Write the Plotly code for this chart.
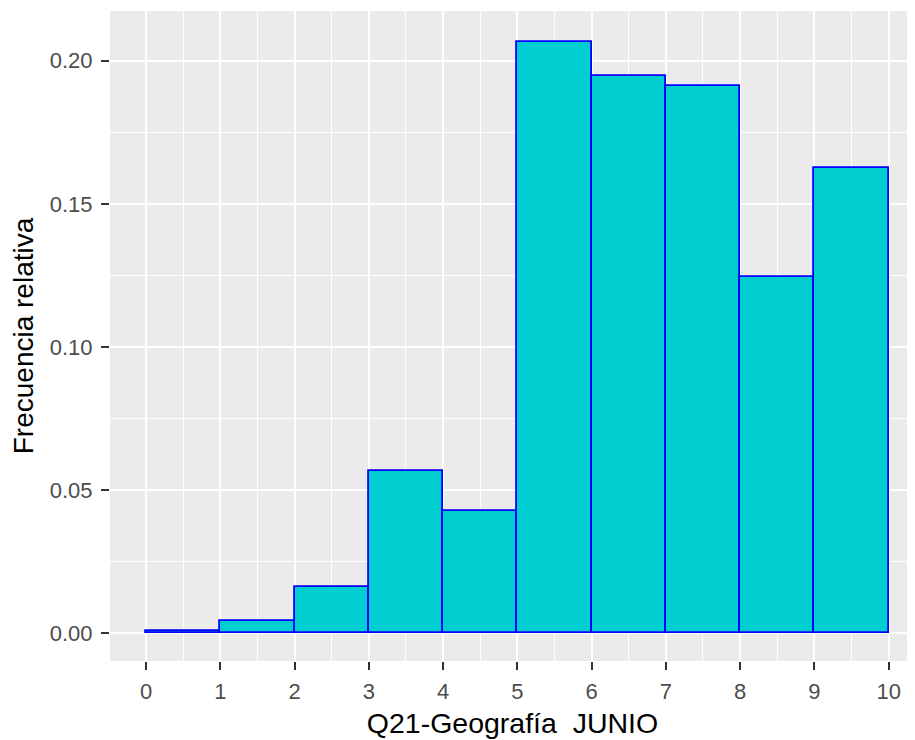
import plotly.graph_objects as go

bin_left = [0, 1, 2, 3, 4, 5, 6, 7, 8, 9]
rel_freq = [0.0006, 0.0041, 0.0160, 0.0565, 0.0428, 0.2064, 0.1947, 0.1913, 0.1245, 0.1624]
x_ticks = [0, 1, 2, 3, 4, 5, 6, 7, 8, 9, 10]
y_ticks = [0.00, 0.05, 0.10, 0.15, 0.20]
y_tick_text = ["0.00", "0.05", "0.10", "0.15", "0.20"]

fig = go.Figure(go.Bar(
    x=[b + 0.5 for b in bin_left],
    y=rel_freq,
    width=1,
    marker=dict(color="#00CED1", line=dict(color="#0000FF", width=1.8)),
    hoverinfo="x+y",
))

font_family = "Liberation Sans, Arial, sans-serif"
# page body has an 8px default margin, so the figure is sized/offset to compensate
fig.update_layout(
    width=907, height=732,
    margin=dict(l=102, r=0, t=3, b=79),
    paper_bgcolor="white",
    plot_bgcolor="#EBEBEB",
    showlegend=False,
    bargap=0,
    font=dict(family=font_family),
    xaxis=dict(
        range=[-0.485, 10.355],
        automargin=False,
        tickvals=x_ticks,
        ticktext=[str(t) for t in x_ticks],
        ticks="outside", ticklen=8, tickwidth=1.6, tickcolor="#333333",
        ticklabelstandoff=3,
        tickfont=dict(size=22, color="#4D4D4D"),
        showgrid=True, gridcolor="white", gridwidth=1.8,
        minor=dict(dtick=0.5, tick0=0, showgrid=True, gridcolor="white", gridwidth=0.9),
        zeroline=False, showline=False,
        title=dict(text="Q21-Geografía  JUNIO", font=dict(size=28.5, color="black"), standoff=9),
    ),
    yaxis=dict(
        range=[-0.0098, 0.2174],
        automargin=False,
        tickvals=y_ticks,
        ticktext=y_tick_text,
        ticks="outside", ticklen=8, tickwidth=1.6, tickcolor="#333333",
        ticklabelstandoff=4,
        tickfont=dict(size=22, color="#4D4D4D"),
        showgrid=True, gridcolor="white", gridwidth=1.8,
        minor=dict(dtick=0.025, tick0=0, showgrid=True, gridcolor="white", gridwidth=0.9),
        zeroline=False, showline=False,
        title=dict(text="Frecuencia relativa", font=dict(size=28, color="black"), standoff=8),
    ),
)

fig.write_html("out.html")
